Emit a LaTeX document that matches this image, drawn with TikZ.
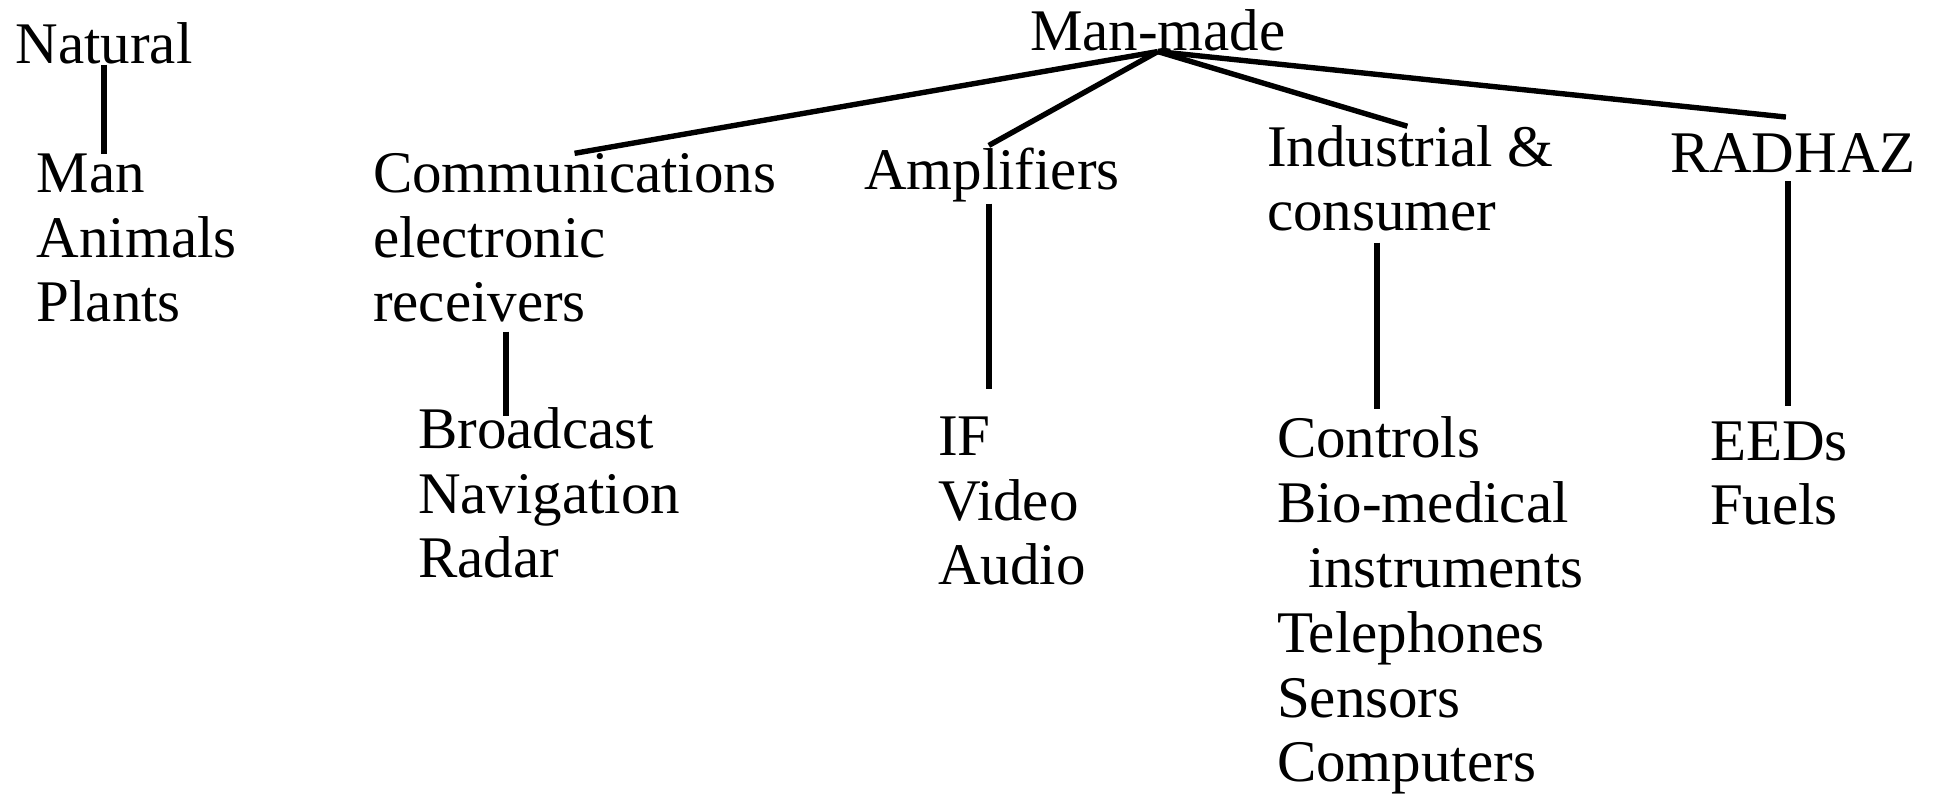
\documentclass[tikz,border=0pt]{standalone}
\usepackage{fontspec}
\setmainfont{Liberation Serif}
\usepackage{tikz}
\usetikzlibrary{positioning,calc}
\tikzset{
  catnode/.style={inner sep=0pt, outer sep=0pt, anchor=base west, align=left,
    font=\fontsize{29.5}{32.4}\selectfont},
  branch/.style={line width=2.7pt, line cap=butt}
}

\begin{document}
\begin{tikzpicture}[x=0.5pt, y=-0.5pt]
\useasboundingbox (0,0) rectangle (1934,795);

% top level
\node[catnode] (nat) at (15.6,64) {Natural};
\node[catnode] (mm) at (1030,51) {Man-made};

% second level (base = last line)
\node[catnode] (natlist) at (36.6,322) {Man\\Animals\\Plants};
\node[catnode] (comm) at (373,322) {Communications\\electronic\\receivers};
\node[catnode] (amp) at (864,190) {Amplifiers};
\node[catnode] (ind) at (1267,231) {Industrial \&\\consumer};
\node[catnode] (rad) at (1670,173) {RADHAZ};

% third level
\node[catnode] (bcast) at (418,578) {Broadcast\\Navigation\\Radar};
\node[catnode] (ifv) at (938,585) {IF\\Video\\Audio};
\node[catnode] (ctrl) at (1277,782) {Controls\\Bio-medical\\\hspace*{15.5pt}instruments\\Telephones\\Sensors\\Computers};
\node[catnode] (eed) at (1710,525) {EEDs\\Fuels};

\draw[branch] (nat.south) -- (nat.south |- natlist.north);

\draw[branch] (mm.south) -- (comm.north);
\draw[branch] (mm.south) -- ([shift={(-3,-3)}]amp.north);
\draw[branch] (mm.south) -- ([shift={(-3,1)}]ind.north);
\draw[branch] (mm.south) -- ([shift={(-7,-17)}]rad.north);

\draw[branch] ([shift={(88,9)}]bcast.north west |- comm.south) -- ([shift={(88,9)}]bcast.north west);
\draw[branch] ([shift={(-3,1)}]amp.south) -- ([shift={(-3,-28)}]amp.south |- ifv.north);
\draw[branch] ([shift={(100,11)}]ctrl.north west |- ind.south) -- ([shift={(100,-8)}]ctrl.north west);
\draw[branch] ([shift={(-5,8)}]rad.south) -- ([shift={(-5,-16)}]rad.south |- eed.north);
\end{tikzpicture}
\end{document}
